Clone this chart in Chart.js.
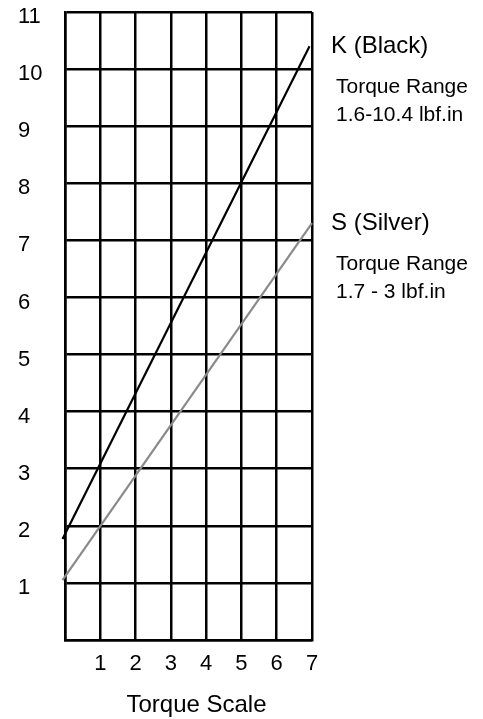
<!DOCTYPE html>
<html>
<head>
<meta charset="utf-8">
<script src="https://cdn.jsdelivr.net/npm/chart.js@4/dist/chart.umd.min.js"></script>
<style>
  html, body { margin: 0; padding: 0; background: #fff; }
  #wrap { width: 483px; height: 719px; position: relative; }
</style>
</head>
<body>
<div id="wrap"><canvas id="c"></canvas></div>
<script>
// ---- data ----
const seriesNames = ['K (Black)', 'S (Silver)'];
const rangeTitle = 'Torque Range';
const rangeLabels = ['1.6-10.4 lbf.in', '1.7 - 3 lbf.in'];
const blackX = [-0.07, 6.93];
const blackY = [1.77, 10.4];
const silverX = [-0.07, 7.0];
const silverY = [1.05, 7.3];
const xTickLabels = ['1', '2', '3', '4', '5', '6', '7'];
const yTickLabels = ['1', '2', '3', '4', '5', '6', '7', '8', '9', '10', '11'];
const xTitle = 'Torque Scale';

const FONT = "'Liberation Sans', Arial, Helvetica, sans-serif";

function pts(xs, ys) { return xs.map((x, i) => ({ x: x, y: ys[i] })); }

const labelPlugin = {
  id: 'sideLabels',
  afterDatasetsDraw(chart) {
    const ctx = chart.ctx;
    const ya = chart.scales.y;
    const area = chart.chartArea;
    const right = area.right;
    const ends = [blackY[blackY.length - 1], silverY[silverY.length - 1]];
    ctx.save();
    ctx.fillStyle = '#000';
    ctx.textAlign = 'left';
    ctx.textBaseline = 'alphabetic';
    ends.forEach((v, i) => {
      const base = ya.getPixelForValue(v) + 7;
      ctx.font = '24px ' + FONT;
      ctx.fillText(seriesNames[i], right + 19, base);
      ctx.font = '21px ' + FONT;
      ctx.fillText(rangeTitle, right + 24, base + 40);
      ctx.fillText(rangeLabels[i], right + 24, base + 68);
    });
    // axis title
    ctx.font = '24px ' + FONT;
    ctx.textAlign = 'center';
    ctx.fillText(xTitle, (area.left + area.right) / 2 + 8, 712);
    ctx.restore();
  }
};

new Chart(document.getElementById('c'), {
  type: 'line',
  data: {
    datasets: [
      {
        label: seriesNames[0],
        data: pts(blackX, blackY),
        borderColor: '#000',
        borderWidth: 2.2,
        pointRadius: 0,
        fill: false,
        clip: false
      },
      {
        label: seriesNames[1],
        data: pts(silverX, silverY),
        borderColor: '#8a8a8a',
        borderWidth: 2.2,
        pointRadius: 0,
        fill: false,
        clip: false
      }
    ]
  },
  options: {
    responsive: true,
    maintainAspectRatio: false,
    animation: false,
    layout: { padding: { left: 18, right: 171, top: 12, bottom: 2 } },
    plugins: { legend: { display: false }, tooltip: { enabled: false } },
    scales: {
      x: {
        type: 'linear',
        min: 0, max: 7,
        afterFit: (s) => { s.height = 77; s.paddingLeft = 0; s.paddingRight = 0; },
        ticks: {
          stepSize: 1,
          color: '#000',
          font: { family: FONT, size: 22 },
          padding: 11,
          maxRotation: 0,
          callback: (v) => (v >= 1 && v <= xTickLabels.length) ? xTickLabels[v - 1] : ''
        },
        grid: { color: '#000', lineWidth: 2.5, drawTicks: false },
        border: { color: '#000', width: 2.5 }
      },
      y: {
        type: 'linear',
        min: 0, max: 11,
        afterFit: (s) => { s.width = 47; s.paddingTop = 0; s.paddingBottom = 0; },
        ticks: {
          stepSize: 1,
          color: '#000',
          crossAlign: 'far',
          labelOffset: 5,
          font: { family: FONT, size: 22 },
          callback: (v) => (v >= 1 && v <= yTickLabels.length) ? yTickLabels[v - 1] : ''
        },
        grid: { color: '#000', lineWidth: 2.5, drawTicks: false },
        border: { color: '#000', width: 2.5 }
      }
    }
  },
  plugins: [labelPlugin]
});
</script>
</body>
</html>
